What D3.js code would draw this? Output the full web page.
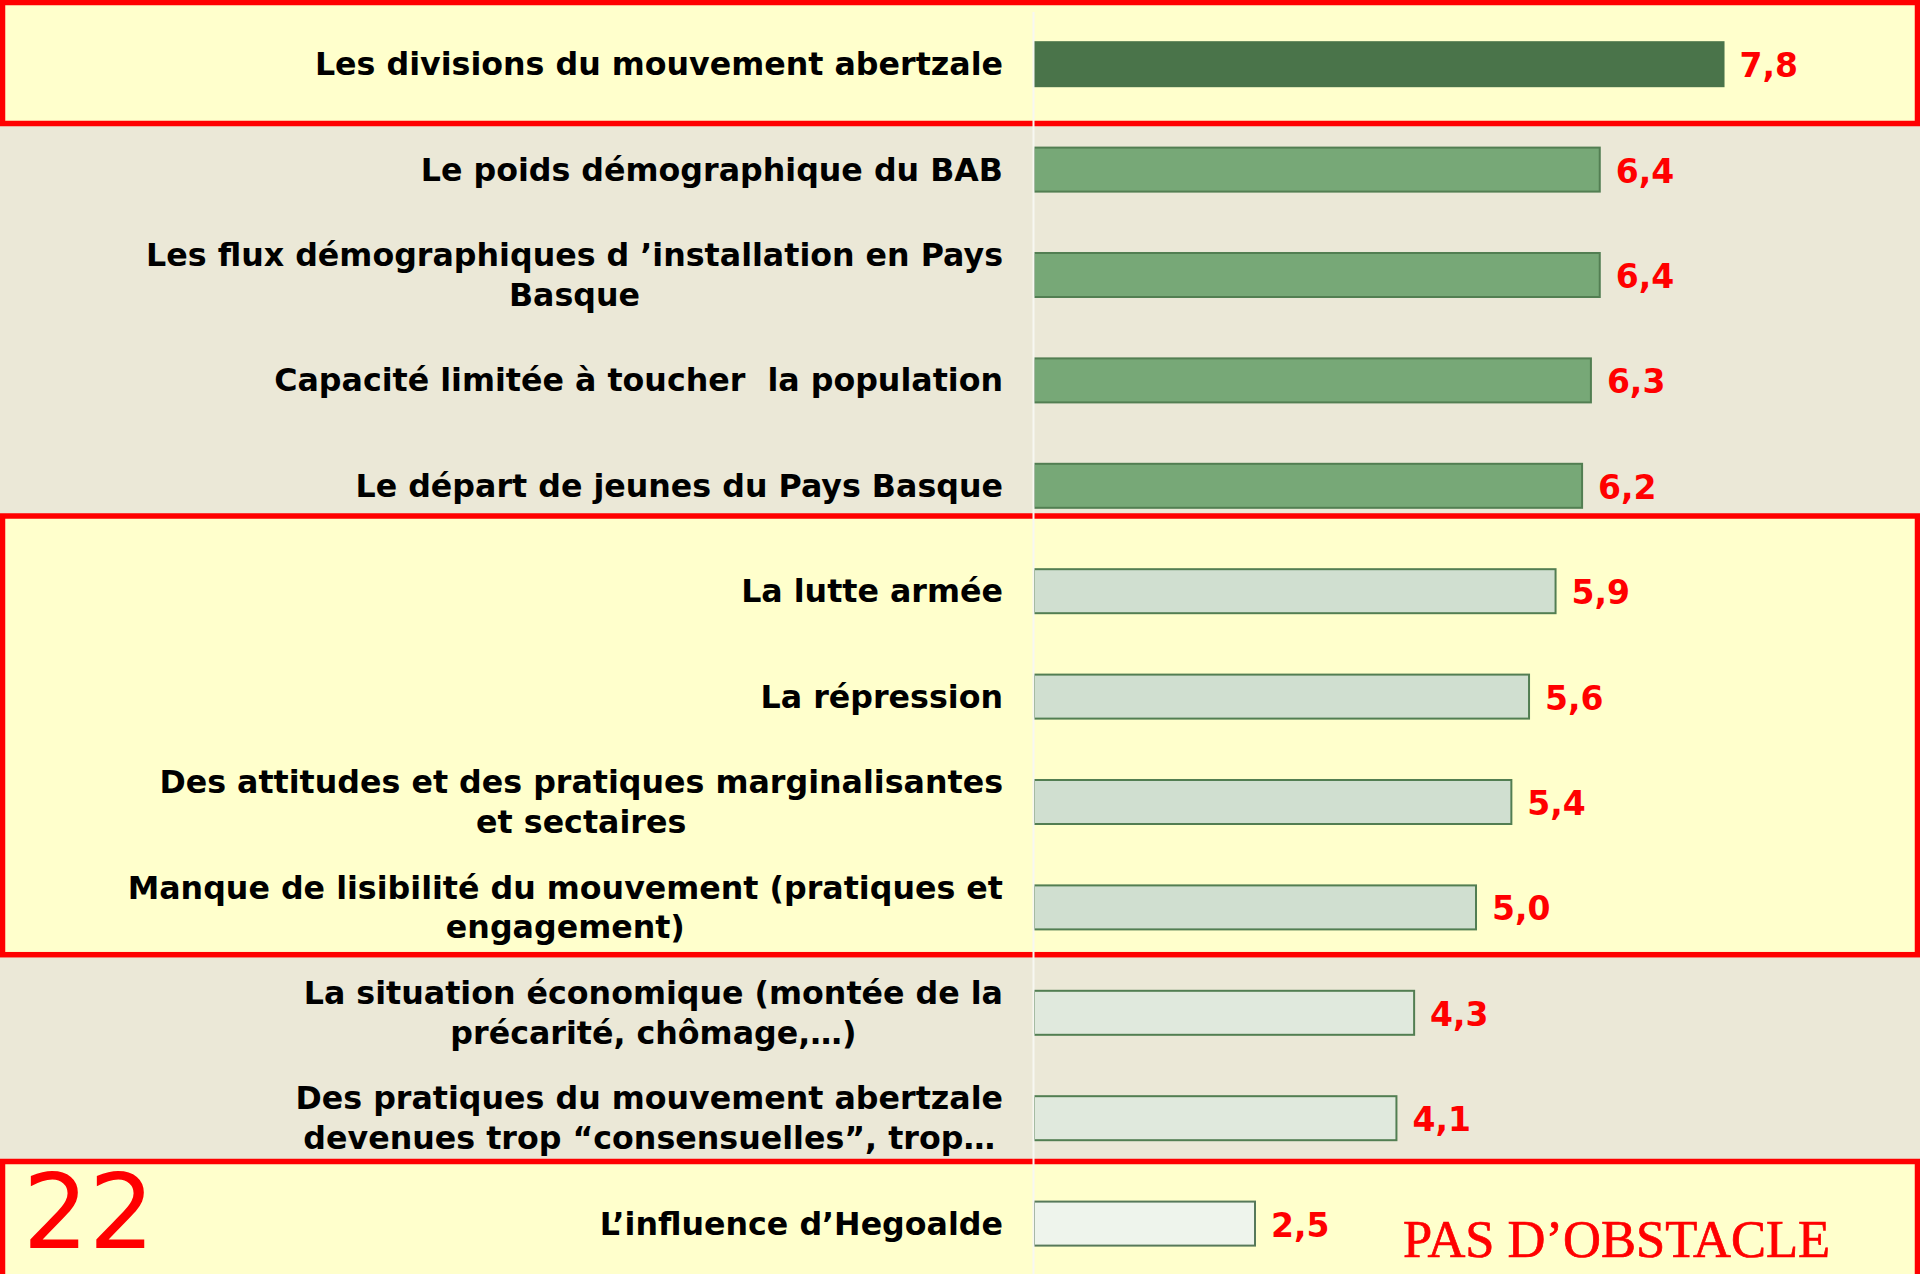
<!DOCTYPE html>
<html>
<head>
<meta charset="utf-8">
<script src="https://cdn.jsdelivr.net/npm/d3@7"></script>
<style>
  html, body { margin: 0; padding: 0; background: #EBE8D7; }
  svg { display: block; }
  text { white-space: pre; }
</style>
</head>
<body>
<script>
// Categories (line breaks as in the original slide)
const categories = [
    "Les divisions du mouvement abertzale",
    "Le poids démographique du BAB",
    "Les flux démographiques d ’installation en Pays\nBasque",
    "Capacité limitée à toucher  la population",
    "Le départ de jeunes du Pays Basque",
    "La lutte armée",
    "La répression",
    "Des attitudes et des pratiques marginalisantes\net sectaires",
    "Manque de lisibilité du mouvement (pratiques et\nengagement)",
    "La situation économique (montée de la\nprécarité, chômage,…)",
    "Des pratiques du mouvement abertzale\ndevenues trop “consensuelles”, trop…",
    "L’influence d’Hegoalde"
];

// Mean scores
const scores = [7.8, 6.4, 6.4, 6.3, 6.2, 5.9, 5.6, 5.4, 5.0, 4.3, 4.1, 2.5];

const pageNumber = "22";
const footnote = "PAS D’OBSTACLE";

const width = 1920, height = 1274;

const svg = d3.select('body').append('svg')
    .attr('width', width)
    .attr('height', height);

// Highlighted (yellow, red-framed) zones: top / bottom edge of each frame
const zones = [
    {top: 2.5, bottom: 123.5},
    {top: 516, bottom: 954.7},
    {top: 1161.5, bottom: 1400}
];

svg.append('rect')
    .attr('width', width).attr('height', height)
    .attr('fill', '#EBE8D7');

svg.selectAll('.zone-fill')
    .data(zones)
    .enter().append('rect')
    .attr('class', 'zone-fill')
    .attr('x', 0)
    .attr('y', d => d.top)
    .attr('width', width)
    .attr('height', d => d.bottom - d.top)
    .attr('fill', '#FFFFCC');

// Scales
const x = d3.scaleLinear()
    .domain([0, 8])
    .range([1034, 1034 + 8 * 88.4]);

const y = d3.scaleBand()
    .domain(categories)
    .range([11.5, 1276.3])
    .paddingInner(0.5825)
    .paddingOuter(0.5825 / 2);

// colour by score level
const fillColor = d3.scaleThreshold()
    .domain([3, 4.5, 6, 7])
    .range(['#EEF4EC', '#E0E9DD', '#D0DFD0', '#77A877', '#4A744A']);
const strokeColor = d3.scaleThreshold()
    .domain([3, 7])
    .range(['#56795A', '#527E52', '#4A744A']);

// Bars
svg.selectAll('.bar')
    .data(scores)
    .enter().append('rect')
    .attr('class', 'bar')
    .attr('x', x(0))
    .attr('y', (d, i) => y(categories[i]))
    .attr('width', d => x(d) - x(0))
    .attr('height', y.bandwidth())
    .attr('fill', d => fillColor(d))
    .attr('stroke', d => strokeColor(d))
    .attr('stroke-width', 2);

// Value labels
const fmt = d3.format('.1f');
svg.selectAll('.val')
    .data(scores)
    .enter().append('text')
    .attr('class', 'val')
    .attr('x', d => x(d) + 16)
    .attr('y', (d, i) => y(categories[i]) + y.bandwidth() / 2 + 13)
    .attr('font-family', 'DejaVu Sans, Verdana, sans-serif')
    .attr('font-weight', 'bold')
    .attr('font-size', 33)
    .attr('fill', '#FF0000')
    .text(d => fmt(d).replace('.', ','));

// Red frames
svg.selectAll('.zone-frame')
    .data(zones)
    .enter().append('rect')
    .attr('class', 'zone-frame')
    .attr('x', 2.5)
    .attr('y', d => d.top)
    .attr('width', width - 5)
    .attr('height', d => d.bottom - d.top)
    .attr('fill', 'none')
    .attr('stroke', '#FF0000')
    .attr('stroke-width', 5.5);

// Category axis: just the light vertical line
const axis = svg.append('g')
    .attr('transform', 'translate(1033,0)')
    .call(d3.axisLeft(y).tickSize(0).tickFormat(''));
axis.select('.domain')
    .attr('stroke', '#F7F7F2')
    .attr('stroke-width', 2);

// Category labels (right-aligned block, lines centred on each other)
const labelRight = 1003;
const lineGap = 39.5;
categories.forEach((cat, i) => {
    const lines = cat.split('\n');
    const cy = y(cat) + y.bandwidth() / 2;
    const first = cy - (lines.length - 1) * lineGap / 2 + 11;
    const texts = lines.map((ln, j) => svg.append('text')
        .attr('y', first + j * lineGap)
        .attr('font-family', 'DejaVu Sans, Verdana, sans-serif')
        .attr('font-weight', 'bold')
        .attr('font-size', 31.7)
        .attr('fill', '#000')
        .attr('text-anchor', 'middle')
        .text(ln));
    const maxW = d3.max(texts, t => t.node().getComputedTextLength());
    texts.forEach(t => t.attr('x', labelRight - maxW / 2));
});

// Page number and footnote
svg.append('text')
    .attr('x', 22.8)
    .attr('y', 1248)
    .attr('font-family', 'DejaVu Sans, sans-serif')
    .attr('font-size', 103.5)
    .attr('fill', '#FF0000')
    .text(pageNumber);

svg.append('text')
    .attr('x', 1403)
    .attr('y', 1257)
    .attr('font-family', 'Liberation Serif, Times New Roman, serif')
    .attr('font-size', 52.5)
    .attr('fill', '#FF0000')
    .attr('stroke', '#FF0000')
    .attr('stroke-width', 0.7)
    .text(footnote);
</script>
</body>
</html>
